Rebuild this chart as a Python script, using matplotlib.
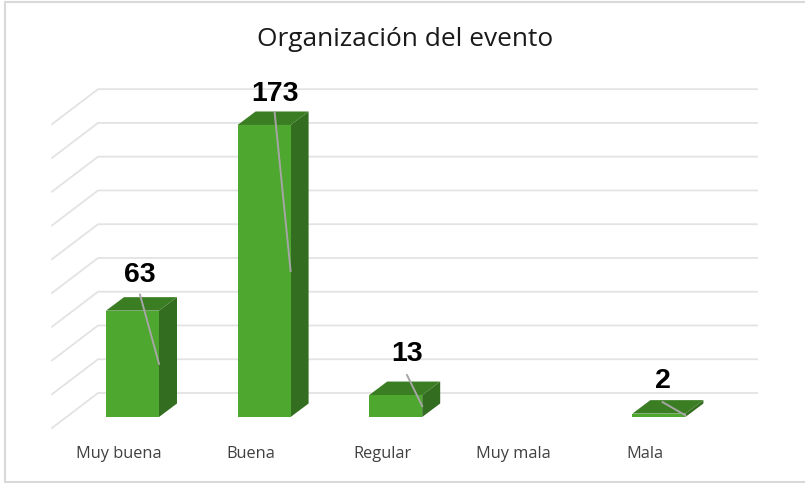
import matplotlib
matplotlib.use("Agg")
import matplotlib.pyplot as plt
from matplotlib.lines import Line2D
from matplotlib.patches import Polygon

categories = ["Muy buena", "Buena", "Regular", "Muy mala", "Mala"]
values = [63, 173, 13, 0, 2]
grid_values = [0, 20, 40, 60, 80, 100, 120, 140, 160, 180]
title = "Organización del evento"

FRONT, SIDE, TOP = "#4EA72E", "#336D1F", "#3B7D23"
GRID, BORDER, LEADER = "#E3E3E3", "#D9D9D9", "#A6A6A6"
W, H = 805, 483
X0, STEP = 132.5, 131.6      # px of first bar centre, px per category
Y0, PXU = 417.0, 1.688       # px of value 0, px per unit
BAR_W = 53 / STEP
DX, DY = 18 / STEP, 13.5 / PXU   # bar depth


def ux(px):
    return px / STEP


def uy(px):
    return px / PXU


fig = plt.figure(figsize=(W / 100, H / 100), dpi=100)
ax = fig.add_axes([0, 0, 1, 1])
ax.set_xlim(-X0 / STEP, (W - X0) / STEP)
ax.set_ylim((Y0 - H) / PXU, Y0 / PXU)
ax.axis("off")

fig.patch.set_facecolor("white")
# frame of the pasted chart: top, left and bottom edges only
fig.add_artist(Line2D([1, 5 / W, 5 / W, 1],
                      [1 - 2 / H, 1 - 2 / H, 1 / H, 1 / H],
                      color=BORDER, lw=1.5, solid_joinstyle="miter",
                      transform=fig.transFigure))

# wall and floor gridlines
xl = ux(52 - X0)
xb = ux(98 - X0)
xr = ux(757 - X0)
for g in grid_values:
    ax.plot([xl, xb, xr], [g - uy(11), g + uy(24), g + uy(24)],
            color=GRID, lw=1.3, solid_joinstyle="miter", zorder=1)

# 3D bars
for i, v in enumerate(values):
    if v == 0:
        continue
    l, r = i - BAR_W / 2, i + BAR_W / 2
    ax.add_patch(Polygon([(r, 0), (r + DX, DY), (r + DX, v + DY), (r, v)],
                         facecolor=SIDE, edgecolor="none", zorder=3))
    ax.add_patch(Polygon([(l, v), (r, v), (r + DX, v + DY), (l + DX, v + DY)],
                         facecolor=TOP, edgecolor="none", zorder=3))
ax.bar(range(len(values)), values, width=BAR_W, color=FRONT, zorder=4)

# data labels and leader lines (pixel offsets from the bar's back top corner)
label_dx = [7.5, 10.5, 11.3, 0, 3.7]
label_dy = [24.5, 19.5, 29.5, 0, 21]
leader_dy = [2.5, -0.5, 6.5, 0, -2]
for i, v in enumerate(values):
    if v == 0:
        continue
    top_y = v + DY
    ax.plot([i + ux(label_dx[i]), i + BAR_W / 2], [top_y + uy(leader_dy[i]), v / 2],
            color=LEADER, lw=1.4, zorder=5)
    ax.text(i + ux(label_dx[i]), top_y + uy(label_dy[i] - 2), str(v),
            ha="center", va="center", fontsize=20.5, fontweight="bold",
            family="Liberation Sans", color="black", zorder=6)

# category labels
for i, c in enumerate(categories):
    ax.text(i + ux(-13.5), uy(Y0 - 454), c, ha="center", va="center",
            fontsize=11.8, family="Open Sans", color="#404040")

ax.text(ux(405.5 - X0), uy(Y0 - 39.5), title, ha="center", va="center",
        fontsize=18.9, family="Open Sans", color="#1a1a1a")

fig.savefig("out.png", dpi=100)
